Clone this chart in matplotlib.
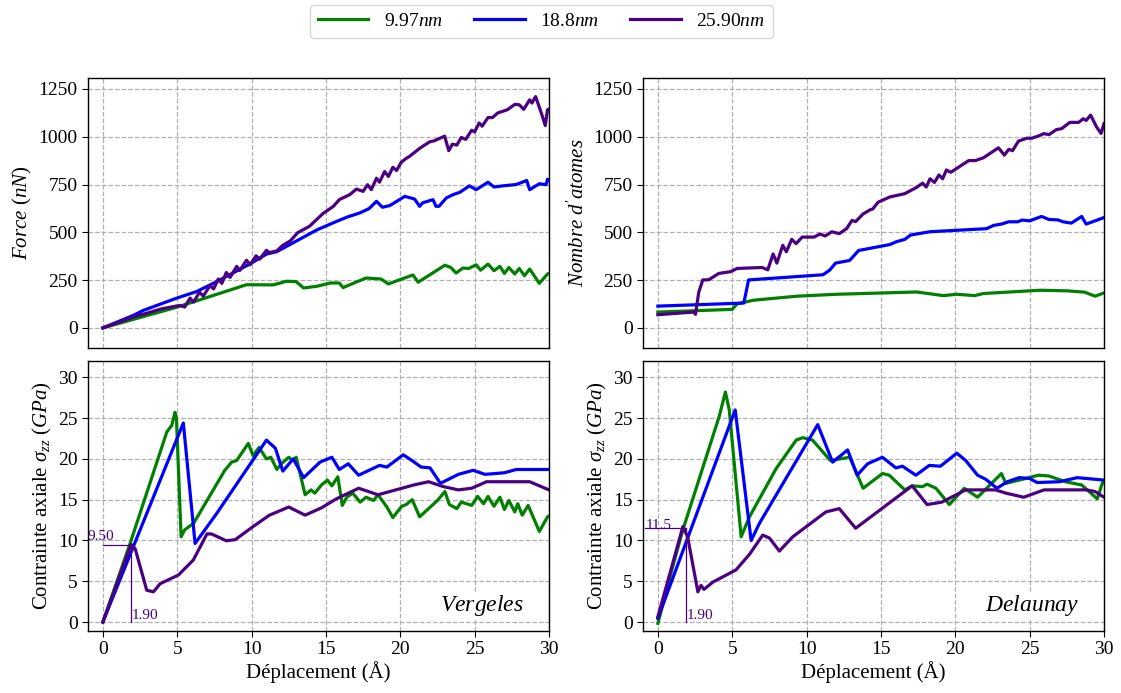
import matplotlib
matplotlib.use("Agg")
import matplotlib.pyplot as plt

plt.rcParams['font.family'] = ['Liberation Serif', 'DejaVu Serif']
plt.rcParams['mathtext.fontset'] = 'custom'
plt.rcParams['mathtext.rm'] = 'Liberation Serif'
plt.rcParams['mathtext.it'] = 'Liberation Serif:italic'
plt.rcParams['mathtext.bf'] = 'Liberation Serif:bold'

labels = ['9.97$nm$', '18.8$nm$', '25.90$nm$']
colors = ['#008000', '#0000ff', '#4b0082']

# ---------------- Force (Vergeles) ----------------
fv_g_x = [0, 5.0, 9.66, 11.45, 12.35, 13.0, 13.5, 14.4, 15.3, 15.9, 16.15, 17.7, 18.7, 19.2, 20.85, 21.2, 23.0, 23.4, 23.75, 24.2, 24.6, 25.1, 25.4, 25.9, 26.3, 26.7, 27.0, 27.3, 27.7, 28.0, 28.35, 28.7, 29.35, 29.9, 30.0]
fv_g_y = [0, 109, 226, 225, 244, 242, 209, 218, 235, 235, 211, 261, 256, 230, 277, 239, 328, 316, 287, 313, 311, 330, 302, 334, 299, 322, 285, 316, 282, 311, 273, 308, 233, 282, 285]
fv_b_x = [0, 2.06, 2.73, 4.97, 6.3, 7.65, 9.9, 11.0, 11.7, 12.6, 13.5, 14.4, 15.5, 16.4, 17.3, 17.9, 18.4, 18.8, 19.3, 20.3, 20.96, 21.3, 21.5, 22.2, 22.4, 22.6, 23.1, 23.55, 24.0, 24.65, 25.1, 25.9, 26.3, 26.9, 27.8, 28.5, 28.7, 29.35, 29.8, 29.9, 30.0]
fv_b_y = [0, 66, 92, 156, 190, 242, 335, 386, 399, 437, 475, 513, 550, 579, 602, 624, 662, 631, 640, 688, 674, 636, 654, 671, 636, 636, 680, 697, 709, 743, 723, 762, 737, 743, 750, 771, 723, 754, 749, 778, 770]
fv_p_x = [0, 2.06, 3.96, 5.19, 5.5, 5.86, 6.1, 6.5, 6.75, 7.2, 7.45, 7.76, 8.0, 8.3, 8.55, 9.0, 9.2, 9.66, 9.9, 10.3, 10.55, 11.0, 11.2, 11.7, 12.1, 12.6, 13.1, 13.9, 14.8, 15.5, 15.9, 16.6, 17.05, 17.5, 17.8, 18.05, 18.4, 18.6, 18.95, 19.2, 19.5, 19.75, 20.05, 20.4, 20.6, 21.3, 21.97, 22.3, 22.98, 23.26, 23.5, 23.8, 24.1, 24.4, 24.8, 25.0, 25.3, 25.5, 25.9, 26.2, 26.55, 27.2, 27.7, 28.0, 28.3, 28.7, 28.85, 29.1, 29.5, 29.75, 29.9, 30.0]
fv_p_y = [0, 57, 100, 118, 109, 156, 135, 187, 166, 221, 204, 256, 233, 290, 264, 322, 300, 354, 330, 377, 360, 406, 394, 403, 432, 455, 498, 532, 598, 636, 671, 697, 726, 714, 749, 723, 783, 762, 818, 792, 840, 823, 865, 887, 896, 939, 973, 979, 1003, 927, 961, 956, 996, 986, 1034, 1025, 1072, 1055, 1100, 1100, 1124, 1141, 1169, 1167, 1143, 1193, 1176, 1210, 1120, 1058, 1141, 1145]

# ---------------- Nombre d'atomes (Delaunay) ----------------
na_g_x = [0, 5.0, 5.33, 6.45, 9.36, 12.04, 17.4, 19.2, 20.1, 21.3, 21.9, 25.7, 27.5, 28.7, 29.4, 30.0]
na_g_y = [83, 97, 126, 145, 166, 176, 188, 169, 176, 169, 180, 197, 194, 187, 166, 183]
na_b_x = [0, 5.78, 6.1, 11.1, 11.55, 11.95, 12.9, 13.5, 15.6, 16.05, 16.6, 17.0, 18.3, 22.1, 22.35, 22.57, 23.1, 23.6, 24.2, 24.5, 25.0, 25.8, 26.3, 26.9, 27.25, 27.8, 28.5, 28.8, 30.0]
na_b_y = [114, 130, 251, 278, 302, 339, 353, 405, 436, 451, 463, 486, 503, 519, 528, 536, 543, 555, 555, 564, 560, 583, 567, 565, 555, 548, 583, 543, 577]
na_p_x = [0, 2.42, 2.53, 2.75, 3.02, 3.42, 4.1, 4.88, 5.33, 7.0, 7.39, 7.75, 8.0, 8.4, 8.64, 9.0, 9.3, 9.7, 10.5, 10.9, 11.25, 11.7, 12.2, 12.7, 13.05, 13.3, 13.8, 14.3, 14.45, 14.8, 15.6, 16.6, 17.4, 17.8, 18.05, 18.3, 18.6, 18.9, 19.15, 19.4, 19.7, 20.9, 21.35, 21.9, 22.9, 23.3, 23.6, 23.85, 24.25, 24.8, 25.15, 25.6, 25.95, 26.3, 26.8, 27.15, 27.7, 28.3, 28.6, 28.8, 29.1, 29.5, 29.8, 30.0]
na_p_y = [69, 83, 71, 187, 251, 252, 285, 294, 311, 316, 304, 387, 339, 432, 398, 463, 441, 475, 475, 491, 481, 503, 493, 520, 562, 556, 596, 619, 622, 657, 685, 702, 735, 757, 737, 780, 761, 800, 780, 826, 814, 875, 875, 890, 942, 904, 934, 927, 977, 992, 992, 1004, 1016, 1011, 1037, 1042, 1075, 1075, 1094, 1085, 1113, 1051, 1017, 1068]

# ---------------- Contrainte (Vergeles) ----------------
sv_g_x = [0, 1.83, 4.3, 4.63, 4.85, 4.95, 5.26, 5.5, 6.1, 8.2, 8.66, 9.0, 9.78, 10.1, 10.5, 11.0, 11.3, 11.7, 12.0, 12.5, 12.75, 13.0, 13.6, 14.0, 14.25, 14.7, 15.1, 15.4, 15.8, 16.1, 16.4, 16.8, 17.3, 17.7, 18.2, 18.5, 19.1, 19.5, 20.1, 20.4, 20.8, 21.3, 21.9, 22.5, 23.0, 23.3, 23.8, 24.1, 24.45, 24.8, 25.2, 25.6, 25.9, 26.3, 26.7, 27.0, 27.3, 27.7, 27.9, 28.2, 28.6, 29.35, 29.9, 30.0]
sv_g_y = [0, 9.63, 23.3, 24.1, 25.7, 24.9, 10.45, 11.3, 12.1, 18.6, 19.6, 19.8, 21.9, 20.4, 21.4, 20.0, 20.2, 18.7, 19.4, 20.2, 19.8, 20.2, 15.6, 16.2, 15.8, 16.8, 17.4, 16.7, 17.8, 14.3, 15.3, 15.8, 14.7, 15.3, 14.9, 15.6, 14.1, 12.8, 14.2, 14.4, 15.0, 12.9, 13.9, 14.9, 16.0, 14.4, 13.9, 14.7, 14.5, 14.3, 15.4, 14.5, 15.4, 14.2, 15.3, 13.8, 14.9, 13.5, 14.5, 13.1, 14.3, 11.1, 12.9, 13.0]
sv_b_x = [0, 5.41, 6.2, 7.65, 11.0, 11.6, 12.1, 12.8, 13.5, 14.6, 15.4, 15.9, 16.5, 17.2, 18.6, 19.1, 20.2, 20.7, 21.4, 22.0, 22.7, 23.9, 24.9, 25.7, 27.0, 27.8, 30.0]
sv_b_y = [0, 24.4, 9.63, 13.3, 22.3, 21.3, 18.5, 20.0, 17.7, 19.6, 20.2, 18.7, 19.4, 18.0, 19.2, 19.0, 20.5, 19.9, 19.0, 18.9, 17.0, 18.1, 18.6, 18.1, 18.3, 18.7, 18.7]
sv_p_x = [0, 1.9, 2.17, 2.95, 3.4, 3.85, 5.08, 6.08, 7.0, 7.3, 8.3, 8.9, 10.1, 11.2, 12.5, 13.6, 14.7, 15.7, 17.2, 18.5, 19.3, 20.9, 21.9, 22.9, 23.9, 24.8, 25.8, 28.7, 30.0]
sv_p_y = [0, 9.5, 9.0, 3.9, 3.7, 4.7, 5.76, 7.6, 10.8, 10.8, 9.96, 10.1, 11.7, 13.1, 14.1, 13.1, 14.0, 15.1, 16.4, 15.6, 16.0, 16.8, 17.2, 16.6, 16.2, 16.4, 17.2, 17.2, 16.2]

# ---------------- Contrainte (Delaunay) ----------------
sd_g_x = [0, 1.0, 1.68, 4.14, 4.54, 4.8, 5.6, 6.16, 7.95, 9.3, 9.74, 10.4, 11.6, 12.9, 13.8, 15.1, 15.56, 16.6, 17.1, 17.8, 18.1, 18.7, 19.6, 20.6, 21.5, 23.1, 23.4, 24.3, 25.6, 26.3, 27.4, 28.5, 29.55, 29.9, 30.0]
sd_g_y = [-0.16, 6.8, 11.3, 25.3, 28.2, 26.0, 10.45, 12.9, 18.8, 22.3, 22.6, 22.3, 19.8, 20.2, 16.4, 18.2, 18.0, 16.2, 16.7, 16.6, 16.9, 16.4, 14.4, 16.4, 15.3, 18.2, 17.0, 17.4, 18.0, 17.9, 17.2, 16.8, 15.1, 17.1, 17.1]
sd_b_x = [0, 5.2, 6.27, 6.83, 10.75, 11.75, 12.76, 13.4, 14.1, 15.1, 16.0, 16.45, 17.35, 18.25, 19.0, 20.1, 20.7, 21.5, 22.05, 22.8, 23.5, 24.3, 25.0, 25.5, 27.0, 28.2, 30.0]
sd_b_y = [0.45, 26.0, 10.0, 12.1, 24.2, 19.6, 21.1, 18.0, 19.4, 20.2, 18.9, 19.1, 18.0, 19.2, 19.1, 20.7, 19.8, 18.0, 17.5, 16.4, 17.2, 17.7, 17.6, 17.1, 17.2, 17.7, 17.4]
sd_p_x = [0, 1.0, 1.68, 2.0, 2.69, 2.9, 3.1, 3.7, 4.6, 5.26, 6.16, 7.05, 7.5, 8.17, 9.07, 11.3, 12.2, 13.3, 17.1, 18.1, 19.1, 20.7, 21.8, 22.7, 23.4, 24.6, 25.97, 28.8, 29.4, 30.0]
sd_p_y = [0.65, 7.2, 11.7, 10.45, 3.7, 4.5, 4.0, 4.9, 5.76, 6.4, 8.3, 10.65, 10.3, 8.7, 10.45, 13.5, 13.9, 11.5, 16.7, 14.4, 14.7, 16.2, 16.2, 16.2, 15.8, 15.3, 16.2, 16.2, 16.0, 15.3]

peak_v = (1.90, 9.50)
peak_d = (1.90, 11.5)

xticks = [0, 5, 10, 15, 20, 25, 30]
force_ticks = [0, 250, 500, 750, 1000, 1250]
stress_ticks = [0, 5, 10, 15, 20, 25, 30]

fig = plt.figure(figsize=(11.21, 6.93), dpi=100)
W, H = 1121, 693
def ax_at(l, t, r, b):
    return fig.add_axes([l / W, 1 - b / H, (r - l) / W, (b - t) / H])

ax_tl = ax_at(88, 78, 549, 348)
ax_tr = ax_at(643, 78, 1104, 348)
ax_bl = ax_at(88, 361, 549, 631)
ax_br = ax_at(643, 361, 1104, 631)

lw = 2.3
def draw(ax, series):
    lines = []
    for (x, y), c, lab in zip(series, colors, labels):
        ln, = ax.plot(x, y, color=c, lw=lw, label=lab)
        lines.append(ln)
    return lines

lines = draw(ax_tl, [(fv_g_x, fv_g_y), (fv_b_x, fv_b_y), (fv_p_x, fv_p_y)])
draw(ax_tr, [(na_g_x, na_g_y), (na_b_x, na_b_y), (na_p_x, na_p_y)])
draw(ax_bl, [(sv_g_x, sv_g_y), (sv_b_x, sv_b_y), (sv_p_x, sv_p_y)])
draw(ax_br, [(sd_g_x, sd_g_y), (sd_b_x, sd_b_y), (sd_p_x, sd_p_y)])

for ax in (ax_tl, ax_tr, ax_bl, ax_br):
    ax.set_xlim(-1, 30)
    ax.set_xticks(xticks)
    ax.grid(True, linestyle='--', color='#b0b0b0', lw=0.9)
    ax.set_axisbelow(True)
    ax.tick_params(labelsize=14, length=4)
    for s in ax.spines.values():
        s.set_color('black')
        s.set_linewidth(1.0)

for ax in (ax_tl, ax_tr):
    ax.set_ylim(-105, 1307)
    ax.set_yticks(force_ticks)
    ax.tick_params(axis='x', bottom=False, labelbottom=False)

for ax in (ax_bl, ax_br):
    ax.set_ylim(-1.1, 32)
    ax.set_yticks(stress_ticks)
    ax.set_xlabel('Déplacement (Å)', fontsize=15, labelpad=2)
    ax.set_ylabel(r'Contrainte axiale $\sigma_{zz}$ $(GPa)$', fontsize=15, labelpad=3)

ax_tl.set_ylabel('$Force$ $(nN)$', fontsize=15, labelpad=3)
ax_tr.set_ylabel("$Nombre$ $d'atomes$", fontsize=15, labelpad=3)

purple = colors[2]
# peak annotations
ax_bl.plot([0, peak_v[0]], [peak_v[1], peak_v[1]], color=purple, lw=0.9)
ax_bl.plot([peak_v[0], peak_v[0]], [0, peak_v[1]], color=purple, lw=0.9)
ax_bl.text(-1.0, peak_v[1] + 0.15, f'{peak_v[1]:.2f}', color=purple, fontsize=11, va='bottom', ha='left')
ax_bl.text(peak_v[0] + 0.05, 0.0, f'{peak_v[0]:.2f}', color=purple, fontsize=11, va='bottom', ha='left')

ax_br.plot([-0.85, peak_d[0]], [peak_d[1], peak_d[1]], color=purple, lw=0.9)
ax_br.plot([peak_d[0], peak_d[0]], [0, peak_d[1]], color=purple, lw=0.9)
ax_br.text(-0.85, peak_d[1] - 0.5, f'{peak_d[1]:.1f}', color=purple, fontsize=11, va='bottom', ha='left')
ax_br.text(peak_d[0] + 0.05, 0.0, f'{peak_d[0]:.2f}', color=purple, fontsize=11, va='bottom', ha='left')

box = dict(facecolor='white', edgecolor='none', pad=1)
ax_bl.text(28.3, 2.0, '$Vergeles$', fontsize=17, ha='right', va='center', bbox=box)
ax_br.text(28.3, 2.0, '$Delaunay$', fontsize=17, ha='right', va='center', bbox=box)

fig.legend(handles=lines, labels=labels, loc='center', bbox_to_anchor=(541.5 / W, 1 - 21.5 / H),
           ncol=3, fontsize=14, frameon=True, handlelength=2.6, columnspacing=1.6,
           handletextpad=0.8, edgecolor='#cccccc', fancybox=True)

fig.savefig('out.png', dpi=100)
